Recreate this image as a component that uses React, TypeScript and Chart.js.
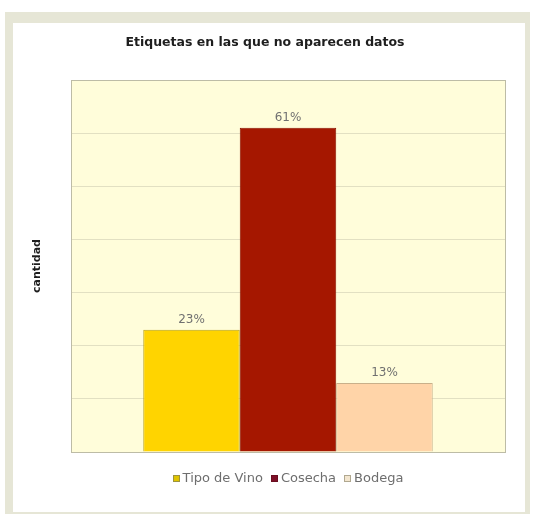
import React, { useEffect, useRef } from "react";
import { Chart, registerables } from "chart.js";

Chart.register(...registerables);

const chartTitle = "Etiquetas en las que no aparecen datos";
const yAxisTitle = "cantidad";
const categories = [""];
const seriesNames = ["Tipo de Vino", "Cosecha", "Bodega"];
const tipoDeVino = [23];
const cosecha = [61];
const bodega = [13];
const yMin = 0;
const yMax = 70;
const yStep = 10;

const fills = ["#FFD400", "#A51700", "#FFD4A8"];
const borders = ["#B8A21A", "#8C1300", "#C9B08A"];
const legendFills = ["#E0C400", "#7E1028", "#F3E6CF"];
const legendBorders = ["#9C9440", "#6A0E20", "#B0A890"];

const FONT = "'DejaVu Sans', Verdana, sans-serif";

export default function App() {
  const ref = useRef<HTMLCanvasElement | null>(null);

  useEffect(() => {
    const canvas = ref.current;
    if (!canvas) return;
    const series = [tipoDeVino, cosecha, bodega];

    const plotDeco = {
      id: "plotDeco",
      beforeDraw(chart: any) {
        const { ctx, chartArea: a } = chart;
        ctx.save();
        ctx.fillStyle = "#FFFDDA";
        ctx.fillRect(a.left, a.top, a.right - a.left, a.bottom - a.top);
        ctx.restore();
      },
      afterDatasetsDraw(chart: any) {
        const { ctx, chartArea: a } = chart;
        ctx.save();
        ctx.strokeStyle = "#BDBCA6";
        ctx.lineWidth = 1;
        ctx.strokeRect(Math.round(a.left) + 0.5, Math.round(a.top) + 0.5, Math.round(a.right - a.left), Math.round(a.bottom - a.top));
        // value labels
        ctx.fillStyle = "#707070";
        ctx.font = `12px ${FONT}`;
        ctx.textAlign = "center";
        ctx.textBaseline = "bottom";
        chart.data.datasets.forEach((ds: any, i: number) => {
          const meta = chart.getDatasetMeta(i);
          meta.data.forEach((el: any, j: number) => {
            ctx.fillText(`${ds.data[j]}%`, el.x, el.y - 4);
          });
        });
        ctx.restore();
      },
      afterDraw(chart: any) {
        const { ctx, chartArea: a } = chart;
        ctx.save();
        // title
        ctx.fillStyle = "#1E1E1E";
        ctx.font = `bold 12.5px ${FONT}`;
        ctx.textAlign = "center";
        ctx.textBaseline = "middle";
        ctx.fillText(chartTitle, 265, 43);
        // legend
        ctx.font = `13px ${FONT}`;
        ctx.textBaseline = "middle";
        const box = 7;
        const gapBoxText = 3;
        const gapItems = 8;
        const widths = seriesNames.map((n) => box + gapBoxText + ctx.measureText(n).width);
        const total = widths.reduce((s, w) => s + w, 0) + gapItems * (seriesNames.length - 1);
        let x = (a.left + a.right) / 2 - total / 2;
        const y = 479;
        seriesNames.forEach((n, i) => {
          ctx.fillStyle = legendFills[i];
          ctx.fillRect(Math.round(x), y - 4, box, box);
          ctx.strokeStyle = legendBorders[i];
          ctx.lineWidth = 1;
          ctx.strokeRect(Math.round(x) + 0.5, y - 3.5, box - 1, box - 1);
          ctx.fillStyle = "#6E6E6E";
          ctx.textAlign = "left";
          ctx.fillText(n, x + box + gapBoxText, y);
          x += widths[i] + gapItems;
        });
        ctx.restore();
      },
    };

    const chart = new Chart(canvas, {
      type: "bar",
      data: {
        labels: categories,
        datasets: seriesNames.map((name, i) => ({
          label: name,
          data: series[i],
          backgroundColor: fills[i],
          borderColor: borders[i],
          borderWidth: 1,
          categoryPercentage: 0.667,
          barPercentage: 1,
        })),
      },
      options: {
        responsive: false,
        animation: false,
        layout: { padding: { left: 0, right: 29, top: 80, bottom: 62 } },
        plugins: {
          legend: { display: false },
          tooltip: { enabled: false },
          title: { display: false },
        },
        scales: {
          x: { display: false },
          y: {
            min: yMin,
            max: yMax,
            ticks: { display: false, stepSize: yStep },
            border: { display: false },
            grid: { color: "#E2E0C2", drawTicks: false, lineWidth: 1 },
            title: {
              display: true,
              text: yAxisTitle,
              color: "#1E1E1E",
              font: { family: FONT, size: 11, weight: "bold" },
              padding: { top: 30.4, bottom: 0 },
            },
            afterFit: (scale: any) => {
              scale.width = 71;
            },
          },
        },
      },
      plugins: [plotDeco],
    });
    return () => chart.destroy();
  }, []);

  return (
    <div style={{ position: "fixed", left: 0, top: 0, width: 534, height: 514, background: "#fff" }}>
      <div
        style={{
          position: "absolute",
          left: 5,
          top: 12,
          width: 525,
          height: 502,
          boxSizing: "border-box",
          borderStyle: "solid",
          borderColor: "#E6E6D6",
          borderWidth: "11px 5px 2px 8px",
          background: "#fff",
        }}
      />
      <canvas ref={ref} width={534} height={514} style={{ position: "absolute", left: 0, top: 0 }} />
    </div>
  );
}
